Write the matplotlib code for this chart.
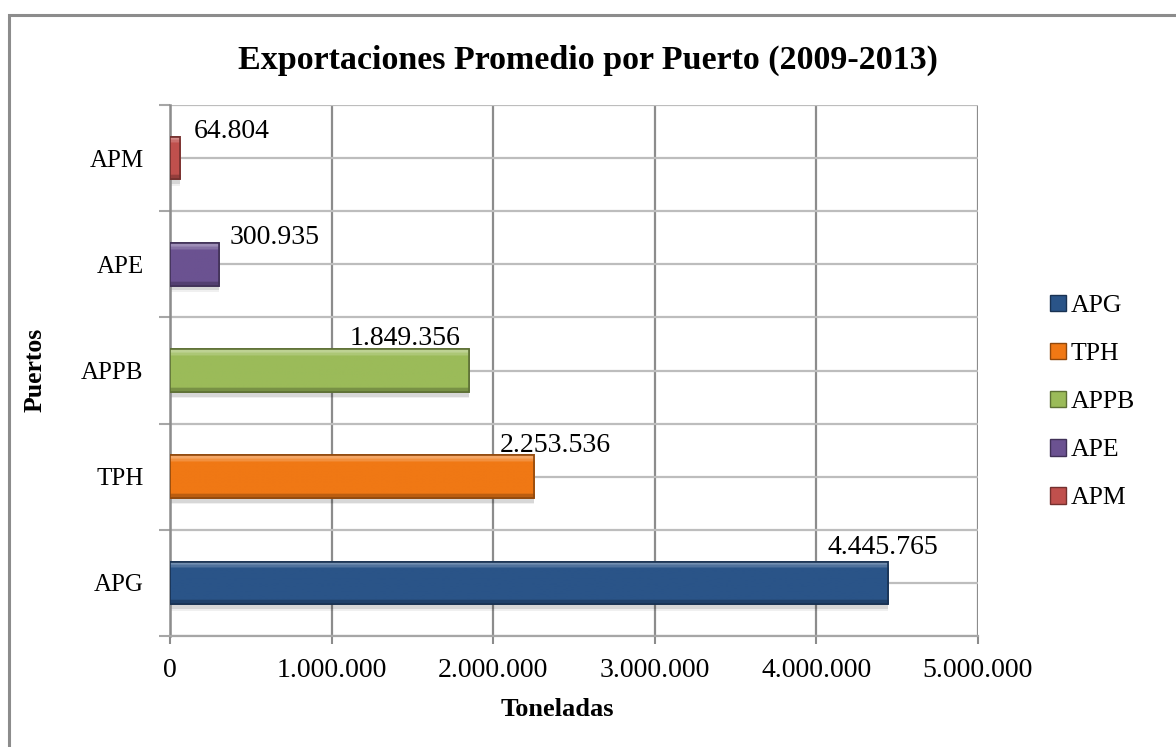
import matplotlib
matplotlib.use("Agg")
import matplotlib.pyplot as plt
from matplotlib.patches import Patch, Rectangle
from matplotlib.ticker import FuncFormatter
import matplotlib.colors as mcolors
import numpy as np

# Average exports per port, 2009-2013 (tonnes)
puertos = ["APG", "TPH", "APPB", "APE", "APM"]
toneladas = [4445765, 2253536, 1849356, 300935, 64804]
etiquetas = ["4.445.765", "2.253.536", "1.849.356", "300.935", "64.804"]
x_ticks = [0, 1000000, 2000000, 3000000, 4000000, 5000000]

colores = ["#2a5488", "#f07814", "#9bbb59", "#6b5291", "#c0504d"]
# label offsets (pixels) from the bar end / bar centre
label_dx = [-6, 21, -64, 56, 51]
label_dy = [35, 31, 32, 27, 27]

FONT = "Liberation Serif"
plt.rcParams["font.family"] = [FONT, "DejaVu Serif"]

W, H = 1176, 747
fig = plt.figure(figsize=(W / 100, H / 100), dpi=100)
fig.patch.set_facecolor("white")

# chart frame (top and left edges visible)
fig.add_artist(Rectangle((8.5 / W, -0.1), 2.0, (H - 14.5) / H + 0.1,
                         transform=fig.transFigure, fill=False,
                         edgecolor="#8c8c8c", linewidth=2.2, zorder=0))

ax = fig.add_axes([170 / W, 111 / H, (978 - 170) / W, (636 - 105) / H])
ax.set_facecolor("white")

ypos = list(range(len(puertos)))
bar_h = 0.4


def shade(c, f):
    r, g, b = mcolors.to_rgb(c)
    if f >= 0:
        return (r + (1 - r) * f, g + (1 - g) * f, b + (1 - b) * f)
    return (r * (1 + f), g * (1 + f), b * (1 + f))


# soft shadow below the bars
for off, a in [(0.045, 0.10), (0.06, 0.06)]:
    ax.barh([y - off for y in ypos], toneladas, height=bar_h, left=0,
            color="#000000", alpha=a, zorder=2, linewidth=0)

# main bars
bars = ax.barh(ypos, toneladas, height=bar_h, color=colores,
               edgecolor=[shade(c, -0.4) for c in colores], linewidth=1.2,
               zorder=3)

# bevelled shading: vertical gradient clipped to each bar
prof = np.linspace(0, 1, 60)  # 0 = bottom, 1 = top
shade_prof = np.where(prof > 0.93, 0.35,
             np.where(prof > 0.86, 0.18,
             np.where(prof < 0.10, -0.22, 0.0)))
for bar, c in zip(bars, colores):
    img = np.array([shade(c, f) for f in shade_prof[::-1]])[:, None, :]
    x0, y0 = bar.get_x(), bar.get_y()
    w, h = bar.get_width(), bar.get_height()
    im = ax.imshow(img, extent=(x0, x0 + w, y0, y0 + h), aspect="auto",
                   interpolation="bilinear", zorder=3.5)
    im.set_clip_path(bar)
    ax.add_patch(Rectangle((x0, y0), w, h, fill=False,
                           edgecolor=shade(c, -0.4), linewidth=1.2,
                           zorder=3.8))

for y, v, t, dx, dy in zip(ypos, toneladas, etiquetas, label_dx, label_dy):
    ax.annotate(t, xy=(v, y), xytext=(dx, dy), textcoords="offset pixels",
                ha="center", va="center", fontsize=20, color="black",
                zorder=6)

ax.set_xlim(0, 5000000)
ax.set_ylim(-0.5, len(puertos) - 0.5)
ax.set_xticks(x_ticks)
ax.xaxis.set_major_formatter(FuncFormatter(
    lambda v, p: "0" if v == 0 else f"{int(v):,}".replace(",", ".")))
ax.set_yticks(ypos)
ax.set_yticklabels(puertos)
ax.set_yticks([y - 0.5 for y in range(len(puertos) + 1)], minor=True)

ax.tick_params(axis="x", which="major", length=6, width=1.5, color="#8c8c8c",
               labelsize=20, pad=10)
ax.tick_params(axis="y", which="major", length=0, labelsize=18, pad=19)
ax.tick_params(axis="y", which="minor", length=8, width=1.5, color="#a6a6a6")

ax.grid(axis="x", which="major", color="#8c8c8c", linewidth=1.6, zorder=1)
ax.grid(axis="y", which="both", color="#bdbdbd", linewidth=1.6, zorder=1)
ax.set_axisbelow(True)

for side in ["top", "right"]:
    ax.spines[side].set_visible(False)
ax.spines["left"].set_color("#8c8c8c")
ax.spines["left"].set_linewidth(1.8)
ax.spines["bottom"].set_color("#a6a6a6")
ax.spines["bottom"].set_linewidth(1.6)

fig.text(557 / W, 1 - 710 / H, "Toneladas", ha="center", va="center",
         fontsize=19, fontweight="bold")
fig.text(35 / W, 1 - 370 / H, "Puertos", ha="center", va="center",
         rotation=90, fontsize=18.5, fontweight="bold")

fig.text(588 / W, 1 - 60 / H, "Exportaciones Promedio por Puerto (2009-2013)",
         ha="center", va="center", fontsize=24.5, fontweight="bold")

handles = [Patch(facecolor=c, edgecolor=shade(c, -0.4), linewidth=1.0)
           for c in colores]
fig.legend(handles, puertos, loc="center left",
           bbox_to_anchor=(1037 / W, 1 - 402 / H), frameon=False,
           fontsize=18.5, handlelength=0.62, handleheight=0.62,
           handletextpad=0.18, labelspacing=1.0, borderpad=0)

fig.savefig("out.png", dpi=100, facecolor="white")
